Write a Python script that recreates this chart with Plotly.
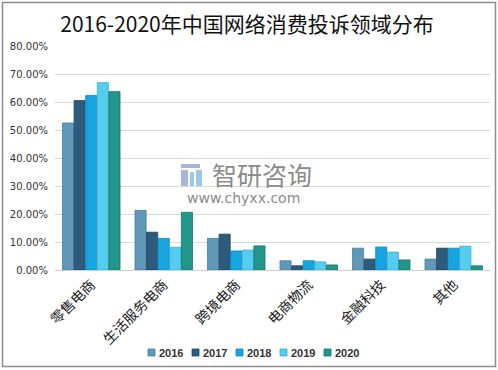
import plotly.graph_objects as go

categories = ["零售电商", "生活服务电商", "跨境电商", "电商物流", "金融科技", "其他"]
years = ["2016", "2017", "2018", "2019", "2020"]
values = {
    "2016": [0.525, 0.213, 0.113, 0.033, 0.078, 0.039],
    "2017": [0.605, 0.135, 0.128, 0.015, 0.039, 0.078],
    "2018": [0.623, 0.113, 0.068, 0.033, 0.082, 0.078],
    "2019": [0.669, 0.081, 0.071, 0.029, 0.064, 0.085],
    "2020": [0.637, 0.206, 0.086, 0.018, 0.036, 0.015],
}
colors = {"2016": "#5f98b8", "2017": "#2d5b7c", "2018": "#16a5df", "2019": "#55cdef", "2020": "#22968a"}
edges = {"2016": "#4a7e9c", "2017": "#1f4560", "2018": "#0e86b8", "2019": "#3aaed0", "2020": "#17756b"}
yticks = [0, 0.1, 0.2, 0.3, 0.4, 0.5, 0.6, 0.7, 0.8]

fig = go.Figure()
for y in years:
    fig.add_trace(go.Bar(
        name=y, x=categories, y=values[y],
        marker=dict(color=colors[y], line=dict(color=edges[y], width=0.8)),
        showlegend=False,
    ))

W, H = 498, 370
L, R, T, B = 55, 8, 46, 100
pw, ph = W - L - R, H - T - B

def px(x):
    return (x - L) / pw

def py(y):
    return (H - B - y) / ph

fig.update_layout(
    width=W, height=H,
    margin=dict(l=L, r=R, t=T, b=B, autoexpand=False),
    paper_bgcolor="white", plot_bgcolor="white",
    barmode="group", bargap=0.2, bargroupgap=0.04,
    title=dict(text="2016-2020年中国网络消费投诉领域分布", x=247 / W, xanchor="center",
               y=1 - 25 / H, yanchor="middle",
               font=dict(family="Noto Sans CJK SC", size=21, color="#111111")),
    xaxis=dict(tickangle=-45, tickfont=dict(family="Noto Sans CJK SC", size=14, color="#1a1a1a"),
               showline=True, linecolor="#d0d0d0", linewidth=1, ticks="", showgrid=False,
               automargin=False),
    yaxis=dict(range=[0, 0.8], tickvals=yticks, tickformat=".2%",
               tickfont=dict(family="DejaVu Sans", size=10, color="#333333"),
               showgrid=True, gridcolor="#d9d9d9", gridwidth=1, zeroline=False, showline=False,
               ticks="", ticklabelstandoff=6, automargin=False),
    showlegend=False,
)

# custom legend (compact, like the reference)
for i, yr in enumerate(years):
    x0 = 148 + 44 * i
    fig.add_shape(type="rect", xref="paper", yref="paper", x0=px(x0), x1=px(x0 + 7),
                  y0=py(349), y1=py(356), fillcolor=colors[yr], line=dict(color=edges[yr], width=0.8))
    fig.add_annotation(text=yr, xref="paper", yref="paper", x=px(x0 + 9), y=py(352.5),
                       xanchor="left", yanchor="middle", showarrow=False,
                       font=dict(family="Liberation Sans", size=11, color="#333333", weight="bold"))

# watermark
fig.add_annotation(text="智研咨询", xref="paper", yref="paper", x=px(262), y=py(174),
                   showarrow=False, font=dict(family="Noto Sans CJK SC", size=25, color="#8a8a8a"),
                   xanchor="center", yanchor="middle")
fig.add_annotation(text="www.chyxx.com", xref="paper", yref="paper", x=px(243), y=py(198),
                   showarrow=False, font=dict(family="DejaVu Sans", size=14, color="#8a8a8a"),
                   xanchor="center", yanchor="middle")
logo = [
    (181, 164, 200, 168, "#a7b6d8"),
    (181, 170, 188, 186, "#a7b6d8"),
    (190, 172, 194, 186, "#9cc7ea"),
    (196, 170, 202, 186, "#9cc7ea"),
]
for x0, y0, x1, y1, c in logo:
    fig.add_shape(type="rect", xref="paper", yref="paper", x0=px(x0), x1=px(x1), y0=py(y0), y1=py(y1),
                  fillcolor=c, line=dict(width=0), layer="above")

# outer border
fig.add_shape(type="rect", xref="paper", yref="paper", x0=px(2.5), x1=px(495.5), y0=py(2.5), y1=py(366.5),
              line=dict(color="#8c8c8c", width=1.5), fillcolor="rgba(0,0,0,0)")

fig.write_html("out.html", config={"displayModeBar": False},
               post_script="document.body.style.margin='0';document.body.style.overflow='hidden';")
